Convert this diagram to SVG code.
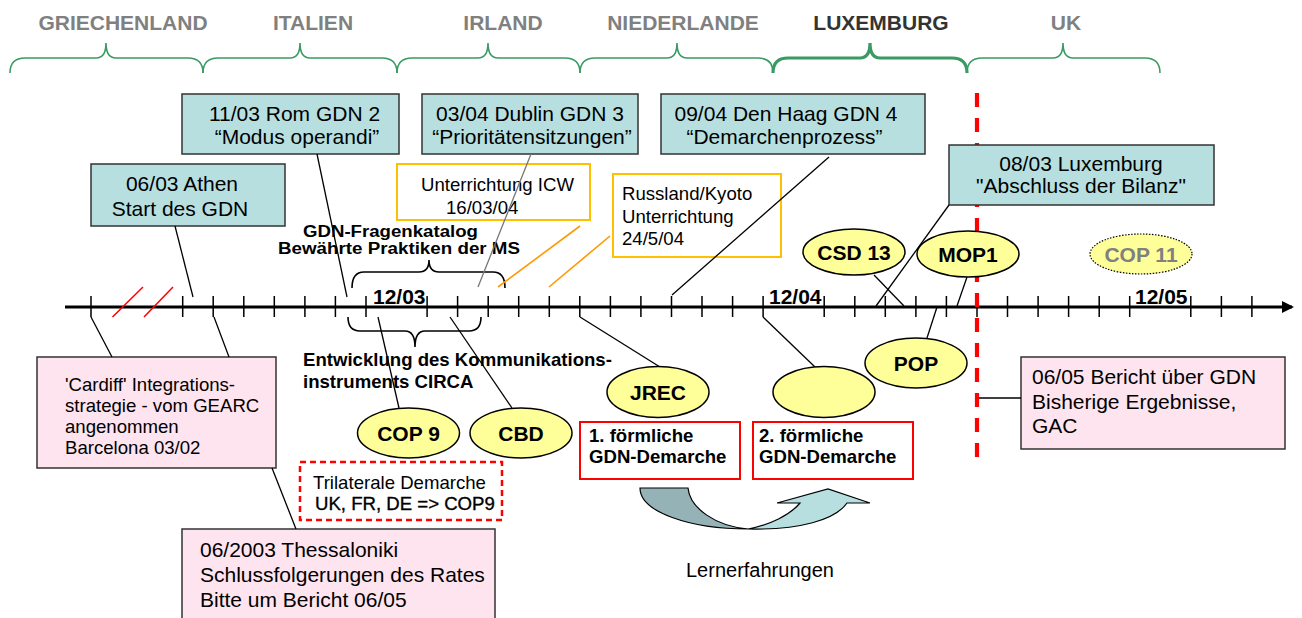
<svg xmlns="http://www.w3.org/2000/svg" width="1302" height="618" viewBox="0 0 1302 618">
<style>
text{font-family:"Liberation Sans",Arial,sans-serif;fill:#000}
.hdr{font-size:21px;font-weight:bold;fill:#808080;text-anchor:middle}
.brace{fill:none;stroke:#3a9a63;stroke-width:1.6}
.teal{fill:#b7dfe0;stroke:#333;stroke-width:1.5}
.pink{fill:#fde4ee;stroke:#333;stroke-width:1.5}
.orange{fill:#fff;stroke:#ffc000;stroke-width:2}
.redbox{fill:#fff;stroke:#ff0000;stroke-width:2}
.ell{fill:#ffff99;stroke:#000;stroke-width:1.5}
.t21{font-size:21px}
.t19{font-size:18.6px}
.b19{font-size:18.6px;font-weight:bold}
.b17{font-size:16.8px;font-weight:bold}
.b21{font-size:21px;font-weight:bold}
.mid{text-anchor:middle}
.ln{stroke:#000;stroke-width:1.3;fill:none}
.orl{stroke:#ff9900;stroke-width:1.6;fill:none}
.tick{stroke:#000;stroke-width:1.5}
</style>
<defs>
<marker id="arr" markerWidth="12" markerHeight="12" refX="10" refY="6" orient="auto" markerUnits="userSpaceOnUse">
<path d="M0,0 L12,6 L0,12 Z" fill="#000"/>
</marker>
</defs>

<g id="headers">
<text class="hdr" x="123" y="30">GRIECHENLAND</text>
<text class="hdr" x="313" y="30">ITALIEN</text>
<text class="hdr" x="503" y="30">IRLAND</text>
<text class="hdr" x="683" y="30">NIEDERLANDE</text>
<text class="hdr" x="881" y="30" style="fill:#333">LUXEMBURG</text>
<text class="hdr" x="1066" y="30">UK</text>
<path class="brace" d="M10,73 Q10,58 25,58 L96,58 Q106,58 106,43 Q106,58 116,58 L188,58 Q203,58 203,73"/>
<path class="brace" d="M203,73 Q203,58 218,58 L290,58 Q300,58 300,43 Q300,58 310,58 L382,58 Q397,58 397,73"/>
<path class="brace" d="M397,73 Q397,58 412,58 L478,58 Q488,58 488,43 Q488,58 498,58 L565,58 Q580,58 580,73"/>
<path class="brace" d="M580,73 Q580,58 595,58 L667,58 Q677,58 677,43 Q677,58 687,58 L758,58 Q773,58 773,73"/>
<path class="brace" style="stroke-width:3.2" d="M773,73 Q773,58 788,58 L860,58 Q870,58 870,43 Q870,58 880,58 L952,58 Q967,58 967,73"/>
<path class="brace" d="M967,73 Q967,58 982,58 L1053,58 Q1063,58 1063,43 Q1063,58 1073,58 L1145,58 Q1160,58 1160,73"/>
</g>

<g id="timeline">
<line x1="65" y1="307" x2="1292" y2="307" stroke="#000" stroke-width="3.2" marker-end="url(#arr)"/>
<path class="tick" d="M91,296V317 M182.7,296V317 M213.2,296V317 M243.8,296V317 M274.3,296V317 M304.9,296V317 M335.4,296V317 M366,296V317 M427.1,296V317 M457.6,296V317 M488.2,296V317 M518.7,296V317 M549.3,296V317 M579.8,296V317 M610.4,296V317 M640.9,296V317 M671.5,296V317 M702,296V317 M732.6,296V317 M763.1,296V317 M824.2,296V317 M854.8,296V317 M885.3,296V317 M915.9,296V317 M946.4,296V317 M977,296V317 M1007.5,296V317 M1038.1,296V317 M1068.6,296V317 M1099.2,296V317 M1129.7,296V317 M1190.8,296V317 M1221.4,296V317 M1251.9,296V317"/>
<path d="M112.5,317 L143,287 M144,317 L173,287" stroke="#ff0000" stroke-width="1.5"/>
<text class="b21" x="373" y="304">12/03</text>
<text class="b21" x="769" y="304">12/04</text>
<text class="b21" x="1135" y="304">12/05</text>
</g>

<g id="brace-fragen">
<path class="ln" style="stroke-width:1.6" d="M352,288 Q352,272 364,272 L419,272 Q429,272 429,260 Q429,272 439,272 L493,272 Q505,272 505,288"/>
<text class="b17" x="303" y="237" textLength="175" lengthAdjust="spacingAndGlyphs">GDN-Fragenkatalog</text>
<text class="b17" x="278" y="254" textLength="242" lengthAdjust="spacingAndGlyphs">Bewährte Praktiken der MS</text>
</g>

<g id="brace-circa">
<path class="ln" style="stroke-width:1.6" d="M348,317 Q348,331 360,331 L405,331 Q415,331 415,347 Q415,331 425,331 L469,331 Q481,331 481,317"/>
<text class="b19" x="303" y="366">Entwicklung des Kommunikations-</text>
<text class="b19" x="303" y="388">instruments CIRCA</text>
</g>

<g id="redline">
<line x1="977" y1="93" x2="977" y2="457" stroke="#ff0000" stroke-width="4.2" stroke-dasharray="14 11"/>
</g>

<g id="athen">
<rect class="teal" x="91" y="164" width="194" height="62"/>
<text class="t21 mid" x="182" y="191">06/03 Athen</text>
<text class="t21 mid" x="180" y="216">Start des GDN</text>
</g>
<g id="rom">
<rect class="teal" x="182" y="94" width="217" height="60"/>
<text class="t21 mid" x="294.5" y="121">11/03 Rom GDN 2</text>
<text class="t21 mid" x="297" y="144">“Modus operandi”</text>
</g>
<g id="dublin">
<rect class="teal" x="422" y="94" width="216" height="60"/>
<text class="t21 mid" x="530" y="121">03/04 Dublin GDN 3</text>
<text class="t21 mid" x="532" y="144">“Prioritätensitzungen”</text>
</g>
<g id="denhaag">
<rect class="teal" x="661" y="94" width="264" height="60"/>
<text class="t21 mid" x="786" y="121">09/04 Den Haag GDN 4</text>
<text class="t21 mid" x="784.5" y="144">“Demarchenprozess”</text>
</g>
<g id="luxemburg">
<rect class="teal" x="949" y="145" width="265" height="60"/>
<text class="t21 mid" x="1081" y="171">08/03 Luxemburg</text>
<text class="t21 mid" x="1081" y="193">"Abschluss der Bilanz"</text>
</g>
<g id="icw">
<rect class="orange" x="397" y="164" width="193" height="56"/>
<text class="t19" x="421" y="191">Unterrichtung ICW</text>
<text class="t19" x="446" y="214">16/03/04</text>
</g>
<g id="russland">
<rect class="orange" x="613" y="174" width="168" height="83"/>
<text class="t19" x="622" y="200">Russland/Kyoto</text>
<text class="t19" x="622" y="223">Unterrichtung</text>
<text class="t19" x="622" y="245">24/5/04</text>
</g>

<g id="cardiff">
<rect class="pink" x="37" y="357" width="239" height="111"/>
<text class="t19" x="65" y="391">'Cardiff' Integrations-</text>
<text class="t19" x="65" y="412">strategie - vom GEARC</text>
<text class="t19" x="65" y="433">angenommen</text>
<text class="t19" x="65" y="454">Barcelona 03/02</text>
</g>
<g id="thessaloniki">
<rect class="pink" x="182" y="529" width="313" height="100"/>
<text class="t21" x="200" y="557">06/2003 Thessaloniki</text>
<text class="t21" x="200" y="582">Schlussfolgerungen des Rates</text>
<text class="t21" x="200" y="607">Bitte um Bericht 06/05</text>
</g>
<g id="bericht">
<rect class="pink" x="1021" y="357" width="264" height="92"/>
<text class="t21" x="1032" y="384">06/05 Bericht über GDN</text>
<text class="t21" x="1032" y="409">Bisherige Ergebnisse,</text>
<text class="t21" x="1032" y="433">GAC</text>
</g>
<g id="trilateral">
<rect x="300" y="462" width="202" height="58" fill="#fff" stroke="#ff0000" stroke-width="2.5" stroke-dasharray="6 4"/>
<text class="t19" x="313" y="489">Trilaterale Demarche</text>
<text class="t19" x="315" y="510" style="stroke:#000;stroke-width:0.35">UK, FR, DE =&gt; COP9</text>
</g>
<g id="demarche1">
<rect class="redbox" x="580" y="422" width="160" height="57"/>
<text class="b19" x="589" y="442">1. förmliche</text>
<text class="b19" x="589" y="463">GDN-Demarche</text>
</g>
<g id="demarche2">
<rect class="redbox" x="753" y="422" width="160" height="57"/>
<text class="b19" x="759" y="442">2. förmliche</text>
<text class="b19" x="759" y="463">GDN-Demarche</text>
</g>

<g id="lernerfahrungen">
<path d="M640,488 L688,488 C690,508 715,526 748,529 C690,529 640,512 640,488 Z" fill="#95b3b7" stroke="#000" stroke-width="1.2"/>
<path d="M748,529 C770,525 790,515 800,503 L777,503 L828,489 L870,503 L847,503 C835,520 800,530 748,529 Z" fill="#b7dfe0" stroke="#000" stroke-width="1.2"/>
<text x="686" y="577" style="font-size:20px">Lernerfahrungen</text>
</g>

<g id="connectors">
<path class="ln" d="M175,226 L193,297"/>
<path class="ln" d="M317,154 L347,297"/>
<path d="M531,154 L478,287" stroke="#777" stroke-width="1.3"/>
<path class="orl" d="M580,226 L498,287"/>
<path class="orl" d="M610,236 L549,287"/>
<path class="ln" d="M829,157 L672,295"/>
<path class="ln" d="M949,205 L876,306"/>
<path class="ln" d="M874,275 L904,306"/>
<path class="ln" d="M967,277 L957,306"/>
<path class="ln" d="M927,338 L937,307"/>
<path class="ln" d="M91,317 L112,357"/>
<path class="ln" d="M214,317 L229,357"/>
<path class="ln" d="M272,468 L296,529"/>
<path class="ln" d="M378,317 L399,408"/>
<path class="ln" d="M450,317 L512,408"/>
<path class="ln" d="M580,317 L660,367"/>
<path class="ln" d="M763,317 L815,367"/>
<path class="ln" d="M979,398 L1021,398"/>
</g>

<g id="cop9"><ellipse class="ell" cx="408.5" cy="433" rx="51" ry="25"/><text class="b21 mid" x="408.5" y="441">COP 9</text></g>
<g id="cbd"><ellipse class="ell" cx="521" cy="433" rx="51" ry="25"/><text class="b21 mid" x="521" y="441">CBD</text></g>
<g id="jrec"><ellipse class="ell" cx="658" cy="392" rx="51" ry="25.5"/><text class="b21 mid" x="658" y="400">JREC</text></g>
<g id="empty"><ellipse class="ell" cx="824" cy="392" rx="51" ry="25.5"/></g>
<g id="pop"><ellipse class="ell" cx="916" cy="363" rx="51" ry="25"/><text class="b21 mid" x="916" y="371">POP</text></g>
<g id="csd13"><ellipse class="ell" cx="854" cy="252" rx="51" ry="23"/><text class="b21 mid" x="854" y="260">CSD 13</text></g>
<g id="mop1"><ellipse class="ell" cx="968" cy="254" rx="51" ry="23"/><text class="b21 mid" x="968" y="262">MOP1</text></g>
<g id="cop11"><ellipse cx="1141" cy="254" rx="51" ry="20" fill="#ffff99" stroke="#000" stroke-width="1.2" stroke-dasharray="1.5 1.5"/><text class="b21 mid" x="1141" y="262" style="fill:#808080">COP 11</text></g>
</svg>
